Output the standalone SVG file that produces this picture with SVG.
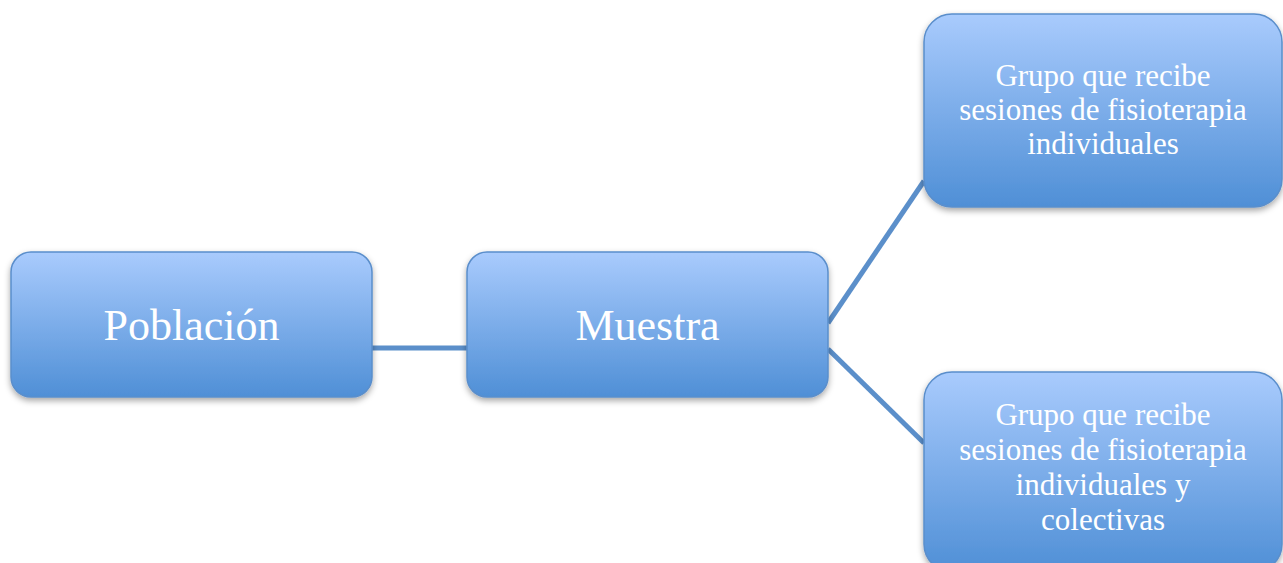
<svg xmlns="http://www.w3.org/2000/svg" width="1283" height="563" viewBox="0 0 1283 563">
<style>
.box{fill:url(#g);stroke:#5a8ecb;stroke-width:1.5;filter:url(#sh)}
.big{font-family:"Liberation Serif","Times New Roman",serif;font-size:44px;fill:#ffffff;text-anchor:middle}
.small{font-family:"Liberation Serif","Times New Roman",serif;font-size:31px;fill:#ffffff;text-anchor:middle}
.conn{stroke:#5b8fca;stroke-width:5;fill:none}
</style>
<defs>
<linearGradient id="g" x1="0" y1="0" x2="0" y2="1">
<stop offset="0" stop-color="#a9cbfd"/>
<stop offset="1" stop-color="#4f8fd6"/>
</linearGradient>
<filter id="sh" x="-10%" y="-10%" width="120%" height="130%">
<feDropShadow dx="0" dy="3" stdDeviation="3" flood-color="#000" flood-opacity="0.35"/>
</filter>
</defs>
<g id="connectors">
<line class="conn" x1="372" y1="348" x2="467" y2="348"/>
<line class="conn" x1="828" y1="323" x2="924" y2="181"/>
<line class="conn" x1="828" y1="349" x2="924" y2="443"/>
</g>
<g id="poblacion">
<rect class="box" x="11" y="252" width="361" height="145" rx="20"/>
<text class="big" x="191.5" y="340">Población</text>
</g>
<g id="muestra">
<rect class="box" x="467" y="252" width="361" height="145" rx="20"/>
<text class="big" x="647.5" y="340">Muestra</text>
</g>
<g id="grupo1">
<rect class="box" x="924" y="14" width="358" height="193" rx="28"/>
<text class="small" x="1103" y="86">Grupo que recibe</text>
<text class="small" x="1103" y="120">sesiones de fisioterapia</text>
<text class="small" x="1103" y="154">individuales</text>
</g>
<g id="grupo2">
<rect class="box" x="924" y="372" width="358" height="200" rx="28"/>
<text class="small" x="1103" y="425">Grupo que recibe</text>
<text class="small" x="1103" y="460">sesiones de fisioterapia</text>
<text class="small" x="1103" y="495">individuales y</text>
<text class="small" x="1103" y="530">colectivas</text>
</g>
</svg>
